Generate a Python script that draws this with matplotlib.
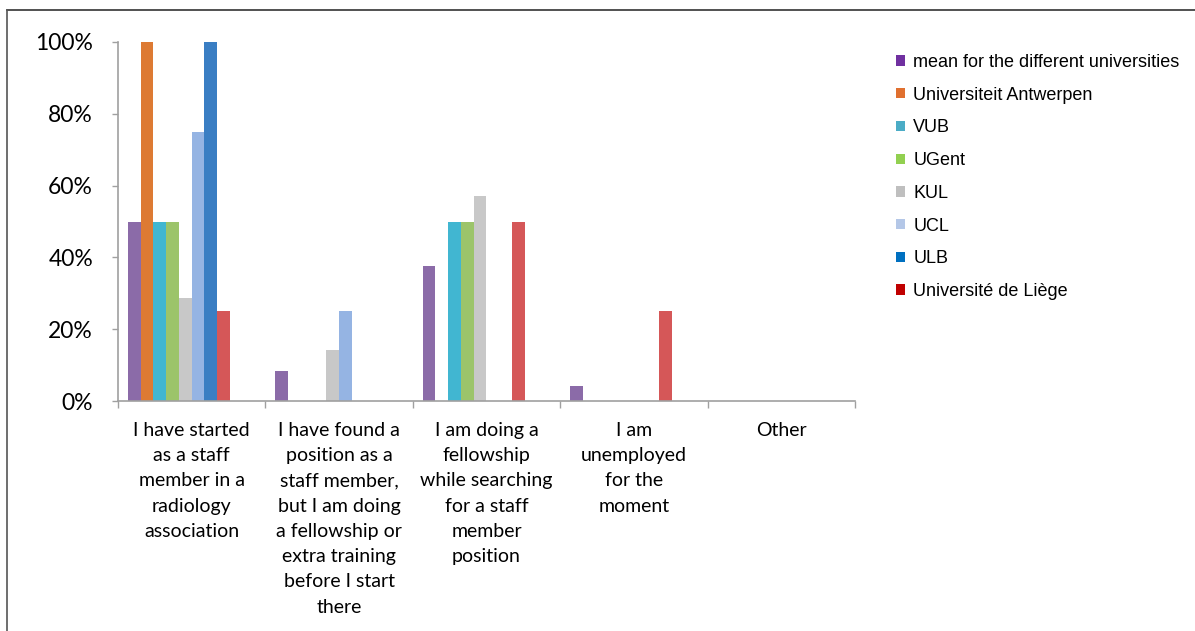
import matplotlib.pyplot as plt
from matplotlib.patches import Patch
from matplotlib.lines import Line2D
import numpy as np

categories = ["I have started\nas a staff\nmember in a\nradiology\nassociation",
              "I have found a\nposition as a\nstaff member,\nbut I am doing\na fellowship or\nextra training\nbefore I start\nthere",
              "I am doing a\nfellowship\nwhile searching\nfor a staff\nmember\nposition",
              "I am\nunemployed\nfor the\nmoment",
              "Other"]

series = ["mean for the different universities", "Universiteit Antwerpen", "VUB",
          "UGent", "KUL", "UCL", "ULB", "Université de Liège"]

# percentages per series, one value per category
mean_uni = [50.0, 8.3, 37.5, 4.2, 0]
antwerpen = [100, 0, 0, 0, 0]
vub = [50, 0, 50, 0, 0]
ugent = [50, 0, 50, 0, 0]
kul = [28.6, 14.3, 57.1, 0, 0]
ucl = [75, 25, 0, 0, 0]
ulb = [100, 0, 0, 0, 0]
liege = [25, 0, 50, 25, 0]
values = [mean_uni, antwerpen, vub, ugent, kul, ucl, ulb, liege]

bar_colors = ["#8B6BA8", "#DD7A33", "#41B6D1", "#9CC46A", "#C8C8C8", "#95B4E3", "#3A7EC3", "#D55758"]
legend_colors = ["#7030A0", "#E0702F", "#4BACC6", "#92D050", "#BFBFBF", "#B4C7E7", "#0070C0", "#C00000"]

fig = plt.figure(figsize=(11.95, 6.31), dpi=100)
ax = fig.add_axes([118 / 1195, 1 - 401 / 631, (855 - 118) / 1195, (401 - 42) / 631])

x = np.arange(len(categories))
w = 0.0867
start = -0.5 + 0.066
for i, vals in enumerate(values):
    ax.bar(x + start + w * i, vals, width=w, align="edge", color=bar_colors[i], linewidth=0)

ax.set_xlim(-0.5, len(categories) - 0.5)
ax.set_ylim(0, 100)
ax.set_yticks([0, 20, 40, 60, 80, 100])
ax.set_yticklabels([f"{v}%" for v in [0, 20, 40, 60, 80, 100]], fontsize=16.5, family="Lato")
ax.set_xticks(x)
ax.set_xticklabels(categories, fontsize=14, family="Lato", linespacing=1.59, va="top")
ax.set_xticks(np.arange(len(categories) + 1) - 0.5, minor=True)
ax.tick_params(axis="x", which="major", length=0, pad=15)
ax.tick_params(axis="x", which="minor", length=5, color="#A0A0A0", width=1)
ax.tick_params(axis="y", length=4, color="#A0A0A0", width=1, pad=14)
for s in ["top", "right"]:
    ax.spines[s].set_visible(False)
for s in ["left", "bottom"]:
    ax.spines[s].set_color("#A0A0A0")
    ax.spines[s].set_linewidth(1.2)

handles = [Patch(facecolor=c, edgecolor="none") for c in legend_colors]
fig.legend(handles, series, loc="upper left", bbox_to_anchor=(896 / 1195, 1 - 54 / 631),
           frameon=False, prop={"family": "Liberation Sans", "size": 13},
           handlelength=0.5, handleheight=0.5, handletextpad=0.45, labelspacing=0.87,
           borderaxespad=0, borderpad=0)

# frame lines of the original screenshot
fig.add_artist(Line2D([7 / 1195, 1], [1 - 10 / 631, 1 - 10 / 631], color="#333333", lw=1.2))
fig.add_artist(Line2D([7 / 1195, 7 / 1195], [0, 1 - 10 / 631], color="#555555", lw=1.2))

fig.savefig("out.png", dpi=100)
